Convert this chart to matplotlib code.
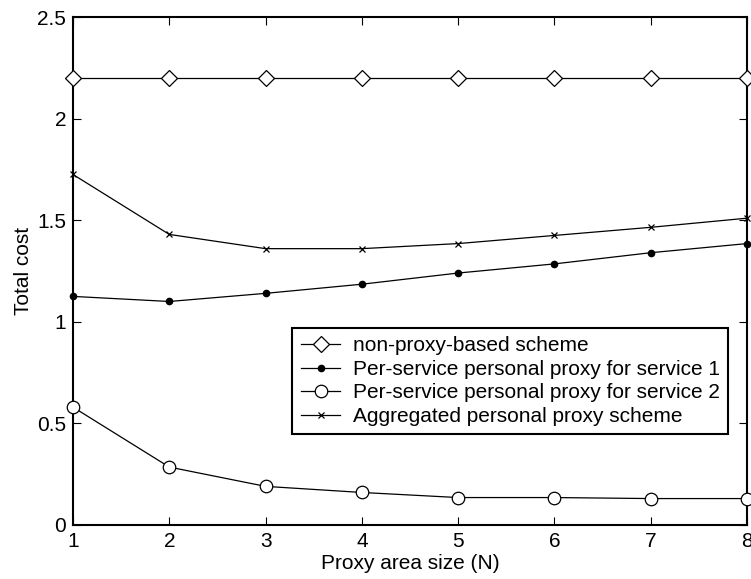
import matplotlib
matplotlib.use("Agg")
import matplotlib.pyplot as plt

# proxy area size
N = [1, 2, 3, 4, 5, 6, 7, 8]

non_proxy = [2.2, 2.2, 2.2, 2.2, 2.2, 2.2, 2.2, 2.2]
per_service_1 = [1.125, 1.10, 1.14, 1.185, 1.24, 1.285, 1.34, 1.385]
per_service_2 = [0.58, 0.285, 0.19, 0.16, 0.135, 0.135, 0.13, 0.13]
aggregated = [1.725, 1.43, 1.36, 1.36, 1.385, 1.425, 1.465, 1.51]

labels = [
    "non-proxy-based scheme",
    "Per-service personal proxy for service 1",
    "Per-service personal proxy for service 2",
    "Aggregated personal proxy scheme",
]

plt.rcParams["font.family"] = ["Liberation Sans", "DejaVu Sans"]
plt.rcParams["font.size"] = 15

fig = plt.figure(figsize=(7.51, 5.79), dpi=100)
ax = fig.add_axes([0.0972, 0.0933, 0.8975, 0.8773])

lw = 0.9
ax.plot(N, non_proxy, "k-", marker="D", markersize=8, markerfacecolor="white",
        markeredgewidth=0.9, linewidth=lw, label=labels[0], clip_on=False, zorder=3)
ax.plot(N, per_service_1, "k-", marker="o", markersize=4.5, linewidth=lw,
        label=labels[1], clip_on=False, zorder=3)
ax.plot(N, per_service_2, "k-", marker="o", markersize=9, markerfacecolor="white",
        markeredgewidth=0.9, linewidth=lw, label=labels[2], clip_on=False, zorder=3)
ax.plot(N, aggregated, "k-", marker="x", markersize=5, markeredgewidth=0.9,
        linewidth=lw, label=labels[3], clip_on=False, zorder=3)

ax.set_xlim(1, 8)
ax.set_ylim(0, 2.5)
ax.set_xticks(range(1, 9))
ax.set_yticks([0, 0.5, 1, 1.5, 2, 2.5])
ax.set_yticklabels(["0", "0.5", "1", "1.5", "2", "2.5"])

ax.tick_params(direction="in", top=True, right=True, length=6, width=0.8, pad=5)
for s in ax.spines.values():
    s.set_linewidth(1.5)

ax.set_xlabel("Proxy area size (N)", labelpad=2)
ax.set_ylabel("Total cost", labelpad=3)

leg = ax.legend(loc="upper right", bbox_to_anchor=(0.972, 0.388), borderaxespad=0,
                fancybox=False, edgecolor="black", handlelength=1.9,
                labelspacing=0.22, borderpad=0.4, handletextpad=0.6, framealpha=1)
leg.get_frame().set_linewidth(1.5)

fig.savefig("out.png", dpi=100)
